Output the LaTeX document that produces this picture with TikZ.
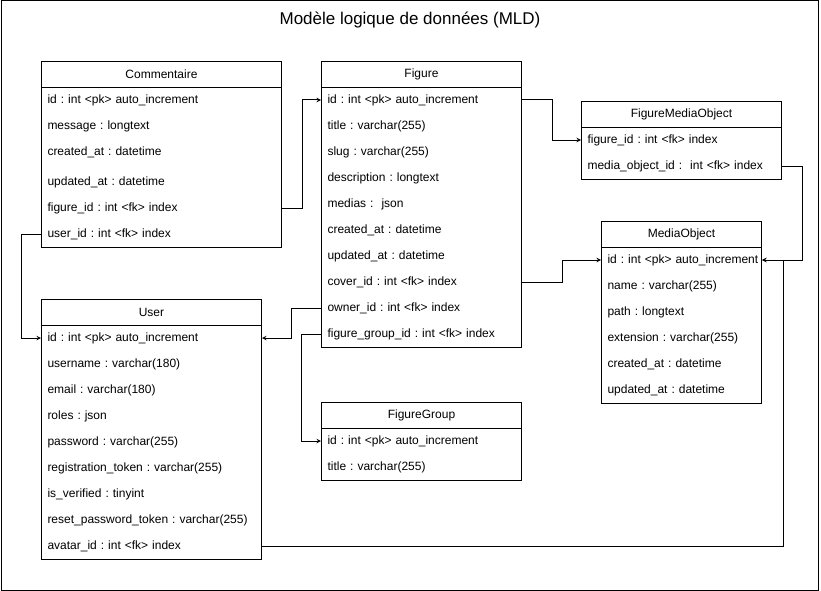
\documentclass[tikz,border=0pt]{standalone}
\usepackage{fontspec}
\setmainfont{Liberation Sans}
\usepackage{tikz}
\usetikzlibrary{arrows.meta, calc}
\frenchspacing

\begin{document}
\begin{tikzpicture}[x=1pt, y=-1pt, line width=1pt, font=\fontsize{12}{14}\selectfont,
  table/.style={draw, anchor=north west, inner sep=0pt},
  head/.style={draw, anchor=north west, minimum height=26, inner sep=0pt},
  row/.style={anchor=west, inner xsep=6pt, inner ysep=0pt, minimum height=20, text width=#1, align=left},
  link/.style={->, >=stealth, line cap=round}]
  \useasboundingbox (0,0) rectangle (821,591);
  \draw (1,1) rectangle (818,590);
  \node[font=\fontsize{17}{20}\selectfont] (title) at (410,20) {Modèle logique de données (MLD)};

  % Commentaire
  \node[table, minimum width=240, minimum height=186] (com) at (41,61) {};
  \node[head, minimum width=240] (com-head) at (41,61) {Commentaire};
  \foreach \n/\y/\txt in {id/100/{id : int <pk> auto\_increment}, message/126/{message : longtext},
      created/152/{created\_at : datetime}, updated/182/{updated\_at : datetime},
      figure/208/{figure\_id : int <fk> index}, user/234/{user\_id : int <fk> index}}
    \node[row=228pt] (com-\n) at (41,\y) {\mbox{\txt}};

  % Figure
  \node[table, minimum width=200, minimum height=286] (fig) at (321,61) {};
  \node[head, minimum width=200] (fig-head) at (321,61) {Figure};
  \foreach \n/\y/\txt in {id/100/{id : int <pk> auto\_increment}, title/126/{title : varchar(255)},
      slug/152/{slug : varchar(255)}, description/178/{description : longtext},
      medias/204/{medias : \ json}, created/230/{created\_at : datetime},
      updated/256/{updated\_at : datetime}, cover/282/{cover\_id : int <fk> index},
      owner/308/{owner\_id : int <fk> index}, group/334/{figure\_group\_id : int <fk> index}}
    \node[row=188pt] (fig-\n) at (321,\y) {\mbox{\txt}};

  % FigureMediaObject
  \node[table, minimum width=200, minimum height=78] (fmo) at (581,101) {};
  \node[head, minimum width=200] (fmo-head) at (581,101) {FigureMediaObject};
  \foreach \n/\y/\txt in {figure/140/{figure\_id : int <fk> index}, media/166/{media\_object\_id : \ int <fk> index}}
    \node[row=188pt] (fmo-\n) at (581,\y) {\mbox{\txt}};

  % MediaObject
  \node[table, minimum width=160, minimum height=182] (med) at (601,221) {};
  \node[head, minimum width=160] (med-head) at (601,221) {MediaObject};
  \foreach \n/\y/\txt in {id/260/{id : int <pk> auto\_increment}, name/286/{name : varchar(255)},
      path/312/{path : longtext}, extension/338/{extension : varchar(255)},
      created/364/{created\_at : datetime}, updated/390/{updated\_at : datetime}}
    \node[row=148pt] (med-\n) at (601,\y) {\mbox{\txt}};

  % User
  \node[table, minimum width=220, minimum height=260] (usr) at (41,299) {};
  \node[head, minimum width=220] (usr-head) at (41,299) {User};
  \foreach \n/\y/\txt in {id/338/{id : int <pk> auto\_increment}, username/364/{username : varchar(180)},
      email/390/{email : varchar(180)}, roles/416/{roles : json}, password/442/{password : varchar(255)},
      registration/468/{registration\_token : varchar(255)}, verified/494/{is\_verified : tinyint},
      reset/520/{reset\_password\_token : varchar(255)}, avatar/546/{avatar\_id : int <fk> index}}
    \node[row=208pt] (usr-\n) at (41,\y) {\mbox{\txt}};

  % FigureGroup
  \node[table, minimum width=200, minimum height=78] (grp) at (321,402) {};
  \node[head, minimum width=200] (grp-head) at (321,402) {FigureGroup};
  \foreach \n/\y/\txt in {id/441/{id : int <pk> auto\_increment}, title/467/{title : varchar(255)}}
    \node[row=188pt] (grp-\n) at (321,\y) {\mbox{\txt}};

  % links
  \draw[link] (com-figure.east) -- ++(20,0) |- (fig-id.west);
  \draw[link] (com-user.west) -- ++(-20,0) |- (usr-id.west);
  \draw[link] (fig-id.east) -- ++(30,0) |- (fmo-figure.west);
  \draw[link] (fmo-media.east) -- ++(20,0) |- (med-id.east);
  \draw[link] (fig-cover.east) -- ++(40,0) |- (med-id.west);
  \draw[link] (fig-owner.west) -- ++(-30,0) |- (usr-id.east);
  \draw[link] (fig-group.west) -- ++(-20,0) |- (grp-id.west);
  \draw[link] (usr-avatar.east) -- ++(521,0) |- (med-id.east);
\end{tikzpicture}
\end{document}
